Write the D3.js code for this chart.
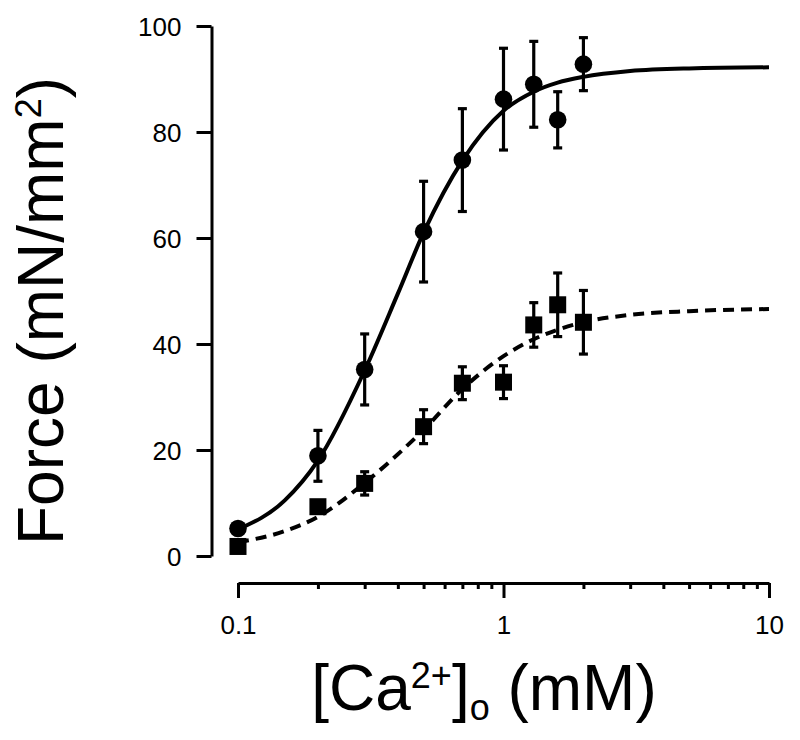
<!DOCTYPE html>
<html>
<head>
<meta charset="utf-8">
<script src="https://cdn.jsdelivr.net/npm/d3@7"></script>
<style>
  html, body { margin: 0; padding: 0; background: #fff; }
  svg { display: block; font-family: "Liberation Sans", Arial, Helvetica, sans-serif; }
</style>
</head>
<body>
<svg id="chart" width="800" height="740"></svg>
<script>
// ---- data ----
const concentrations = [0.1, 0.2, 0.3, 0.5, 0.7, 1.0, 1.3, 1.6, 2.0];
const circleForce = [5.2, 18.9, 35.2, 61.2, 74.7, 86.2, 89.0, 82.3, 92.8];
const circleErr   = [1.0, 4.8, 6.7, 9.5, 9.7, 9.6, 8.1, 5.3, 5.0];
const squareForce = [1.8, 9.3, 13.7, 24.4, 32.6, 32.8, 43.6, 47.4, 44.1];
const squareErr   = [1.0, 1.0, 2.2, 3.2, 3.1, 3.1, 4.2, 6.0, 6.0];

const fitX      = [0.1, 0.15, 0.2, 0.3, 0.4, 0.5, 0.7, 1.0, 1.3, 1.6, 2.0, 3.0, 5.0, 10.0];
const fitSolid  = [5.0, 10.5, 18.0, 35.0, 49.5, 61.0, 74.6, 84.0, 87.6, 89.3, 90.4, 91.5, 92.0, 92.2];
const fitDashed = [2.6, 4.7, 7.4, 13.8, 19.2, 23.8, 31.5, 37.7, 40.9, 42.7, 44.1, 45.5, 46.2, 46.6];

const xMajorTicks = [0.1, 1, 10];
const xMajorLabels = ["0.1", "1", "10"];
const xMinorTicks = [0.2, 0.3, 0.4, 0.5, 0.6, 0.7, 0.8, 0.9, 2, 3, 4, 5, 6, 7, 8, 9];
const yTicks = [0, 20, 40, 60, 80, 100];

// ---- layout ----
const svg = d3.select("#chart");
const x = d3.scaleLog().domain([0.1, 10]).range([238, 769]);
const y = d3.scaleLinear().domain([0, 100]).range([556, 26]);
const xAxisY = 583;
const yAxisX = 211.5;

// Y axis
const yAxis = svg.append("g")
  .attr("transform", `translate(${yAxisX},0)`)
  .call(d3.axisLeft(y).tickValues(yTicks).tickSize(15).tickSizeOuter(0).tickPadding(15));
yAxis.select(".domain").attr("stroke", "#000").attr("stroke-width", 3);
yAxis.selectAll(".tick line").attr("stroke", "#000").attr("stroke-width", 3);
yAxis.selectAll(".tick text")
  .attr("font-size", 26).attr("fill", "#000")
  .attr("font-family", "Liberation Sans, Arial, sans-serif")
  .attr("dy", "0.36em");

// X axis: minor ticks
const xMinor = svg.append("g")
  .attr("transform", `translate(0,${xAxisY})`)
  .call(d3.axisBottom(x).tickValues(xMinorTicks).tickSize(6).tickSizeOuter(0).tickFormat(""));
xMinor.select(".domain").attr("stroke", "#000").attr("stroke-width", 3);
xMinor.selectAll(".tick line").attr("stroke", "#000").attr("stroke-width", 3);

// X axis: major ticks
const xMajor = svg.append("g")
  .attr("transform", `translate(0,${xAxisY})`)
  .call(d3.axisBottom(x).tickValues(xMajorTicks).tickSize(15).tickSizeOuter(0)
        .tickFormat((d, i) => xMajorLabels[i]));
xMajor.select(".domain").remove();
xMajor.selectAll(".tick line").attr("stroke", "#000").attr("stroke-width", 3);
xMajor.selectAll(".tick text")
  .attr("font-size", 26).attr("fill", "#000")
  .attr("font-family", "Liberation Sans, Arial, sans-serif")
  .attr("y", 51).attr("dy", "0");

// Fit curves
const line = d3.line()
  .x(d => x(d[0]))
  .y(d => y(d[1]))
  .curve(d3.curveMonotoneX);

svg.append("path")
  .attr("d", line(fitX.map((v, i) => [v, fitSolid[i]])))
  .attr("fill", "none").attr("stroke", "#000").attr("stroke-width", 4);

svg.append("path")
  .attr("d", line(fitX.map((v, i) => [v, fitDashed[i]])))
  .attr("fill", "none").attr("stroke", "#000").attr("stroke-width", 4)
  .attr("stroke-dasharray", "11,7");

// Error bars
function errorBars(vals, errs) {
  const g = svg.append("g").attr("stroke", "#000").attr("stroke-width", 3.2);
  concentrations.forEach((c, i) => {
    const cx = x(c), top = y(vals[i] + errs[i]), bot = y(vals[i] - errs[i]);
    g.append("line").attr("x1", cx).attr("x2", cx).attr("y1", top).attr("y2", bot);
    g.append("line").attr("x1", cx - 4.5).attr("x2", cx + 4.5).attr("y1", top).attr("y2", top);
    g.append("line").attr("x1", cx - 4.5).attr("x2", cx + 4.5).attr("y1", bot).attr("y2", bot);
  });
}
errorBars(circleForce, circleErr);
errorBars(squareForce, squareErr);

// Markers
svg.append("g").selectAll("circle")
  .data(concentrations)
  .join("circle")
  .attr("cx", d => x(d))
  .attr("cy", (d, i) => y(circleForce[i]))
  .attr("r", 8.8)
  .attr("fill", "#000");

const sq = 17;
svg.append("g").selectAll("rect")
  .data(concentrations)
  .join("rect")
  .attr("x", d => x(d) - sq / 2)
  .attr("y", (d, i) => y(squareForce[i]) - sq / 2)
  .attr("width", sq).attr("height", sq)
  .attr("fill", "#000");

// Y axis title
const yt = svg.append("text")
  .attr("transform", "translate(63,311) rotate(-90)")
  .attr("text-anchor", "middle")
  .attr("font-size", 64)
  .attr("fill", "#000");
yt.append("tspan").text("Force (mN/mm");
yt.append("tspan").attr("font-size", 36).attr("dy", -22).text("2");
yt.append("tspan").attr("dy", 22).text(")");

// X axis title
const xt = svg.append("text")
  .attr("x", 484).attr("y", 710)
  .attr("text-anchor", "middle")
  .attr("font-size", 64)
  .attr("fill", "#000");
xt.append("tspan").text("[Ca");
xt.append("tspan").attr("font-size", 36).attr("dy", -22).text("2+");
xt.append("tspan").attr("dy", 22).text("]");
xt.append("tspan").attr("font-size", 36).attr("dy", 10).text("o");
xt.append("tspan").attr("dy", -10).text(" (mM)");
</script>
</body>
</html>
